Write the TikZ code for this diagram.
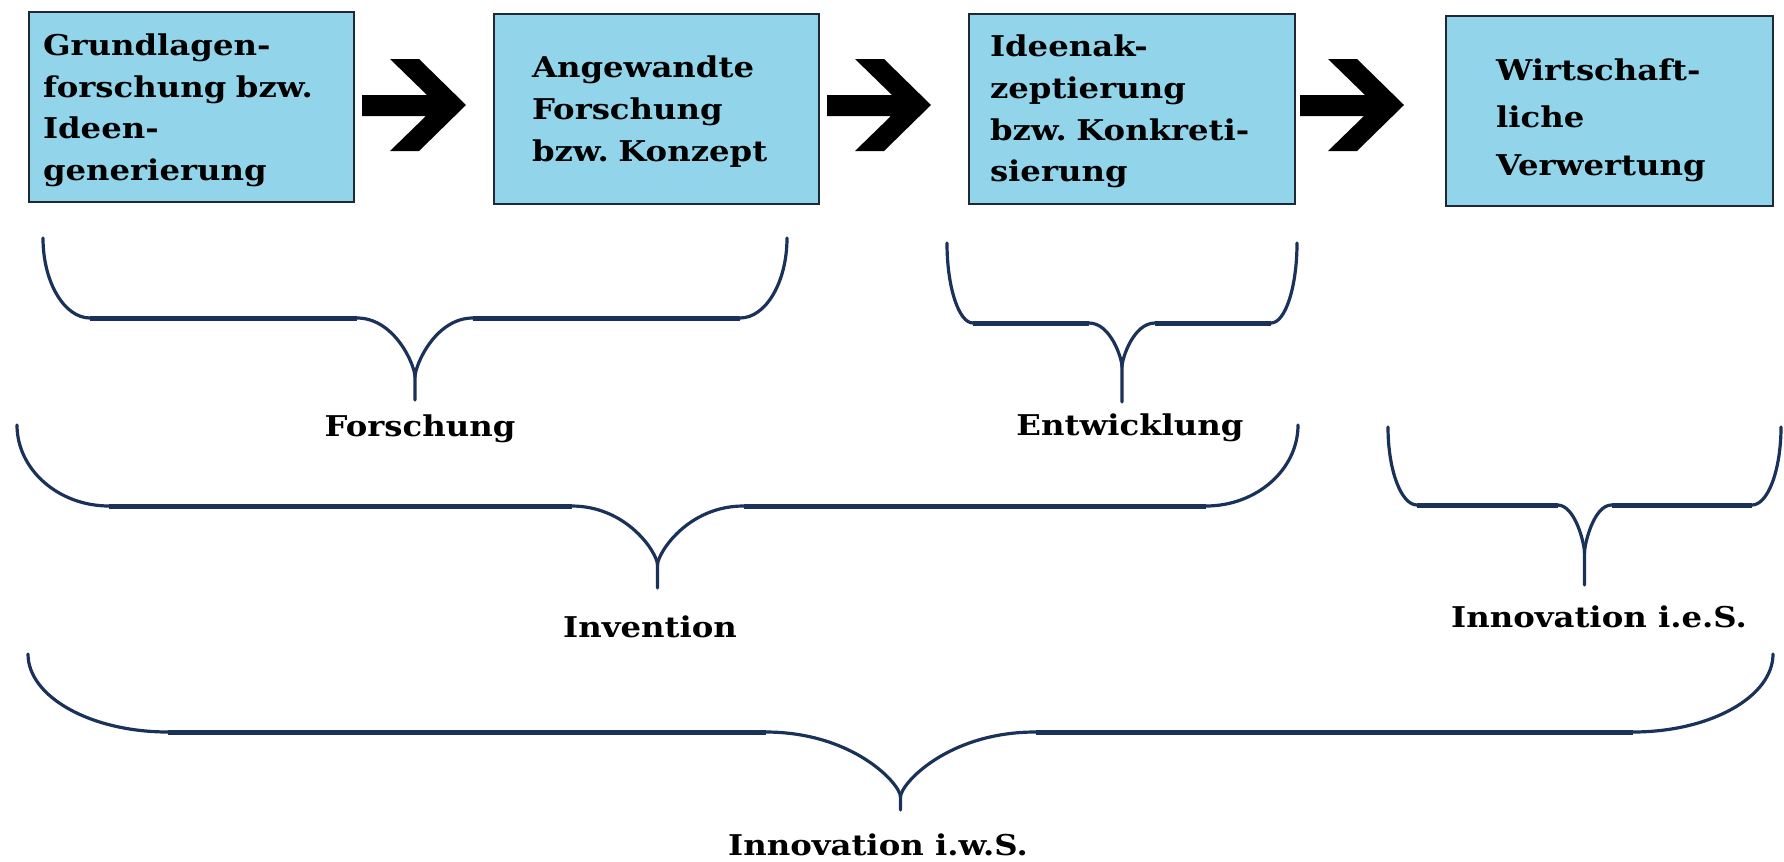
\documentclass[tikz,border=0pt]{standalone}
\usepackage{fontspec}
\newfontfamily\dvfont{DejaVu Serif}[FakeStretch=1.13]
\definecolor{boxfill}{RGB}{146,213,234}
\definecolor{boxline}{RGB}{30,40,55}
\definecolor{bracecol}{RGB}{26,50,90}
\frenchspacing
\newcommand\boxfnt{\dvfont\bfseries\fontsize{14.3pt}{20.8pt}\selectfont}
\newcommand\lblfnt{\dvfont\bfseries\fontsize{14.3pt}{16pt}\selectfont}
\newcommand\tstrut[1]{\rule{0pt}{#1}}
% xL xR ytop yh ymeet ytip a b
\newcommand\drawbrace[8]{%
  \pgfmathsetmacro\bxm{(#1+#2)/2}%
  \pgfmathsetmacro\bdv{#4-#3}%
  \pgfmathsetmacro\bdm{#5-#4}%
  \draw[bracethin] ({#1},{#3}) .. controls ({#1},{#3+0.55*\bdv}) and ({#1+0.45*#7},{#4}) .. ({#1+#7},{#4})
     -- ({\bxm-#8},{#4}) .. controls ({\bxm-0.35*#8},{#4}) and ({\bxm},{#4+0.8*\bdm}) .. ({\bxm},{#5})
     -- ({\bxm},{#6});
  \draw[bracethin] ({#2},{#3}) .. controls ({#2},{#3+0.55*\bdv}) and ({#2-0.45*#7},{#4}) .. ({#2-#7},{#4})
     -- ({\bxm+#8},{#4}) .. controls ({\bxm+0.35*#8},{#4}) and ({\bxm},{#4+0.8*\bdm}) .. ({\bxm},{#5});
  \draw[bracethick] ({#1+#7},{#4}) -- ({\bxm-#8},{#4});
  \draw[bracethick] ({#2-#7},{#4}) -- ({\bxm+#8},{#4});
}
\tikzset{
  bigarrow/.pic={\fill[black] (0,95) -- (65,95) -- (28,59) -- (57,59) -- (104,105) -- (57,151) -- (28,151) -- (64,116) -- (0,116) -- cycle;},
  box/.style={draw=boxline, line width=1pt, fill=boxfill, minimum height=95pt, align=left, font=\boxfnt, inner ysep=0pt, text=black},
  lbl/.style={font=\lblfnt, anchor=base, inner sep=0pt, text=black},
  bracethin/.style={draw=bracecol, line width=1.6pt, line cap=round},
  bracethick/.style={draw=bracecol, line width=2.5pt, line cap=butt},
}
\begin{document}
\begin{tikzpicture}[x=0.5pt,y=-0.5pt]
\fill[white] (0,0) rectangle (1784,862);
\useasboundingbox (0,0) rectangle (1784,862);

\node[box, inner xsep=7pt, text width=148.5pt] (b1) at (191.5,107) {\tstrut{14pt}Grundlagen-\\forschung bzw.\\Ideen-\\generierung};
\node[box, inner xsep=19pt, text width=124.5pt] (b2) at (656.5,108.5) {\tstrut{14pt}Angewandte\\Forschung\\bzw. Konzept};
\node[box, inner xsep=10.5pt, text width=142pt] (b3) at (1132,108.5) {\tstrut{14pt}Ideenak-\\zeptierung\\bzw. Konkreti-\\sierung};
\node[box, inner xsep=25pt, text width=113.5pt, font=\dvfont\bfseries\fontsize{14.3pt}{23.7pt}\selectfont] (b4) at (1609.5,111) {\tstrut{20pt}Wirtschaft-\\liche\\Verwertung};

\pic at (362,0) {bigarrow};
\pic at (827,0) {bigarrow};
\pic at (1300,0) {bigarrow};

\drawbrace{43}{787}{238}{318}{377}{400}{47}{58}
\drawbrace{947}{1297}{243}{323}{367}{402}{26}{33}
\drawbrace{17}{1298}{425}{506}{565}{588}{92}{86}
\drawbrace{1388}{1781}{427}{505}{553}{585}{29}{27}
\drawbrace{28}{1773}{654}{732}{797}{810}{140}{135}

\node[lbl] (l1) at (420,436) {Forschung};
\node[lbl] (l2) at (1130,435) {Entwicklung};
\node[lbl] (l3) at (650,637) {Invention};
\node[lbl] (l4) at (1599,627) {Innovation i.e.S.};
\node[lbl] (l5) at (878,855) {Innovation i.w.S.};
\end{tikzpicture}
\end{document}
